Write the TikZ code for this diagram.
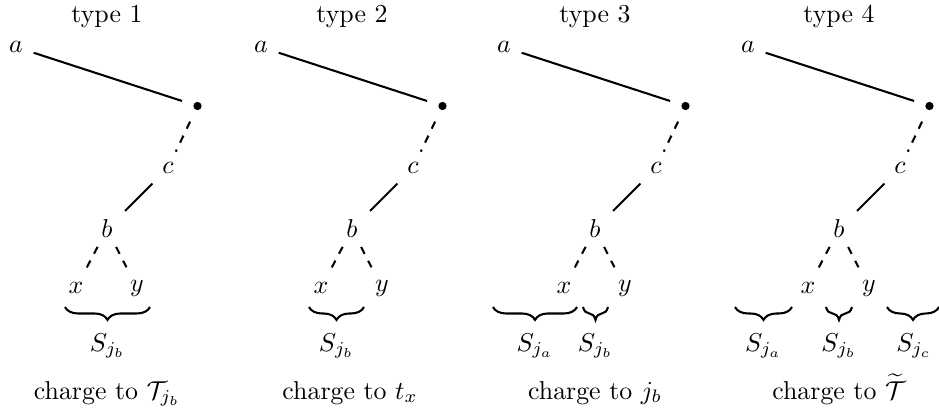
\documentclass[tikz,border=0pt]{standalone}
\usetikzlibrary{decorations.pathreplacing}
\begin{document}
\begin{tikzpicture}[x=0.387pt,y=-0.387pt,
  lbl/.style={inner sep=0pt},
  edge/.style={thick},
  dedge/.style={thick,dashed},
  vtx/.style={circle,fill,inner sep=0pt,minimum size=3.2pt},
  brc/.style={thick,decorate,decoration={brace,mirror,amplitude=5pt}},
  txt/.style={anchor=base,inner sep=0pt}
]
\useasboundingbox (0,0) rectangle (939,414);
\foreach \i/\dx in {1/0,2/245,3/488,4/732}{
  \begin{scope}[shift={(\dx,0)}]
    \node[txt] (t\i) at (107,22) {type \i};
    \node[lbl] (a\i) at (16,47) {$a$};
    \node[vtx] (v\i) at (197.5,106) {};
    \node[lbl] (c\i) at (168,168) {$c$};
    \node[lbl] (b\i) at (107,229) {$b$};
    \node[lbl] (x\i) at (76,288) {$x$};
    \node[lbl] (y\i) at (137,288) {$y$};
    \draw[edge,shorten <=7.2pt,shorten >=6.3pt] (a\i.center) -- (v\i.center);
    \draw[dedge,shorten <=6.7pt,shorten >=7pt] (v\i.center) -- (c\i.center);
    \draw[edge,shorten <=8.5pt,shorten >=9.9pt] (c\i.center) -- (b\i.center);
    \draw[dedge,shorten <=7.8pt,shorten >=9pt] (b\i.center) -- (x\i.center);
    \draw[dedge,shorten <=7.8pt,shorten >=9pt] (b\i.center) -- (y\i.center);
  \end{scope}
}
% panel 1
\begin{scope}[shift={(0,0)}]
  \draw[brc] (65,307) -- (150,307);
  \node[txt] (s1b) at (107.5,351) {$S_{j_b}$};
  \node[txt] (ch1) at (107,399) {charge to $\mathcal{T}_{j_b}$};
\end{scope}
% panel 2
\begin{scope}[shift={(245,0)}]
  \draw[brc] (64,307) -- (119,307);
  \node[txt] (s2b) at (91.5,351) {$S_{j_b}$};
  \node[txt] (ch2) at (105,399) {charge to $t_x$};
\end{scope}
% panel 3
\begin{scope}[shift={(488,0)}]
  \draw[brc] (5,307) -- (89,307);
  \draw[brc] (95,307) -- (120,307);
  \node[txt] (s3a) at (47,351) {$S_{j_a}$};
  \node[txt] (s3b) at (107.5,351) {$S_{j_b}$};
  \node[txt] (ch3) at (107,399) {charge to $j_b$};
\end{scope}
% panel 4
\begin{scope}[shift={(732,0)}]
  \draw[brc] (3,307) -- (60,307);
  \draw[brc] (94,307) -- (120,307);
  \draw[brc] (155,307) -- (207,307);
  \node[txt] (s4a) at (31.5,351) {$S_{j_a}$};
  \node[txt] (s4b) at (107,351) {$S_{j_b}$};
  \node[txt] (s4c) at (182,351) {$S_{j_c}$};
  \node[txt] (ch4) at (107,399) {charge to $\widetilde{\mathcal{T}}$};
\end{scope}
\end{tikzpicture}
\end{document}
